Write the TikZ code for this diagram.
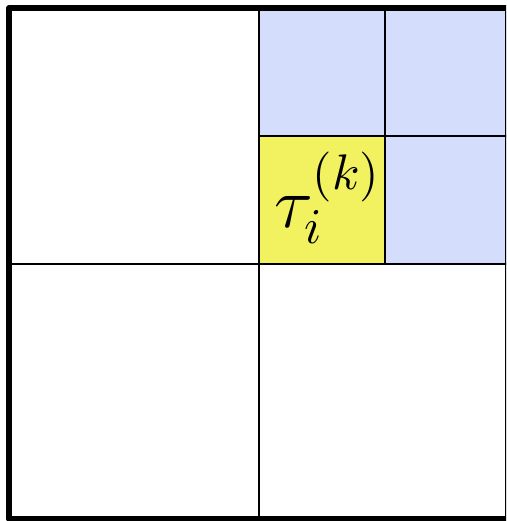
\documentclass[tikz,border=0pt]{standalone}
\usepackage{graphicx}
\definecolor{cellblue}{RGB}{212,222,252}
\definecolor{cellyellow}{RGB}{242,242,96}
\tikzset{
  thinline/.style={line width=2pt, draw=black},
  thickline/.style={line width=6pt, draw=black, line join=round},
}
\begin{document}
\begin{tikzpicture}[x=1pt,y=-1pt]
\useasboundingbox (0,0) rectangle (506,521);
\begin{scope}
\clip (0,0) rectangle (506,521);
% fills
\fill[cellblue] (259,8) rectangle (508,264);
\fill[cellyellow] (259,136) rectangle (385,264);
% thin grid
\draw[thinline] (259,8) -- (259,518);
\draw[thinline] (9,264) -- (508,264);
\draw[thinline] (385,8) -- (385,264);
\draw[thinline] (259,136) -- (508,136);
% thick border
\draw[thickline] (9,8) rectangle (508,518.5);
% label
\node[anchor=base west, inner sep=0pt] (tau) at (274,227)
  {\scalebox{5}{\Large$\tau_i^{(k)}$}};
\end{scope}
\end{tikzpicture}
\end{document}
